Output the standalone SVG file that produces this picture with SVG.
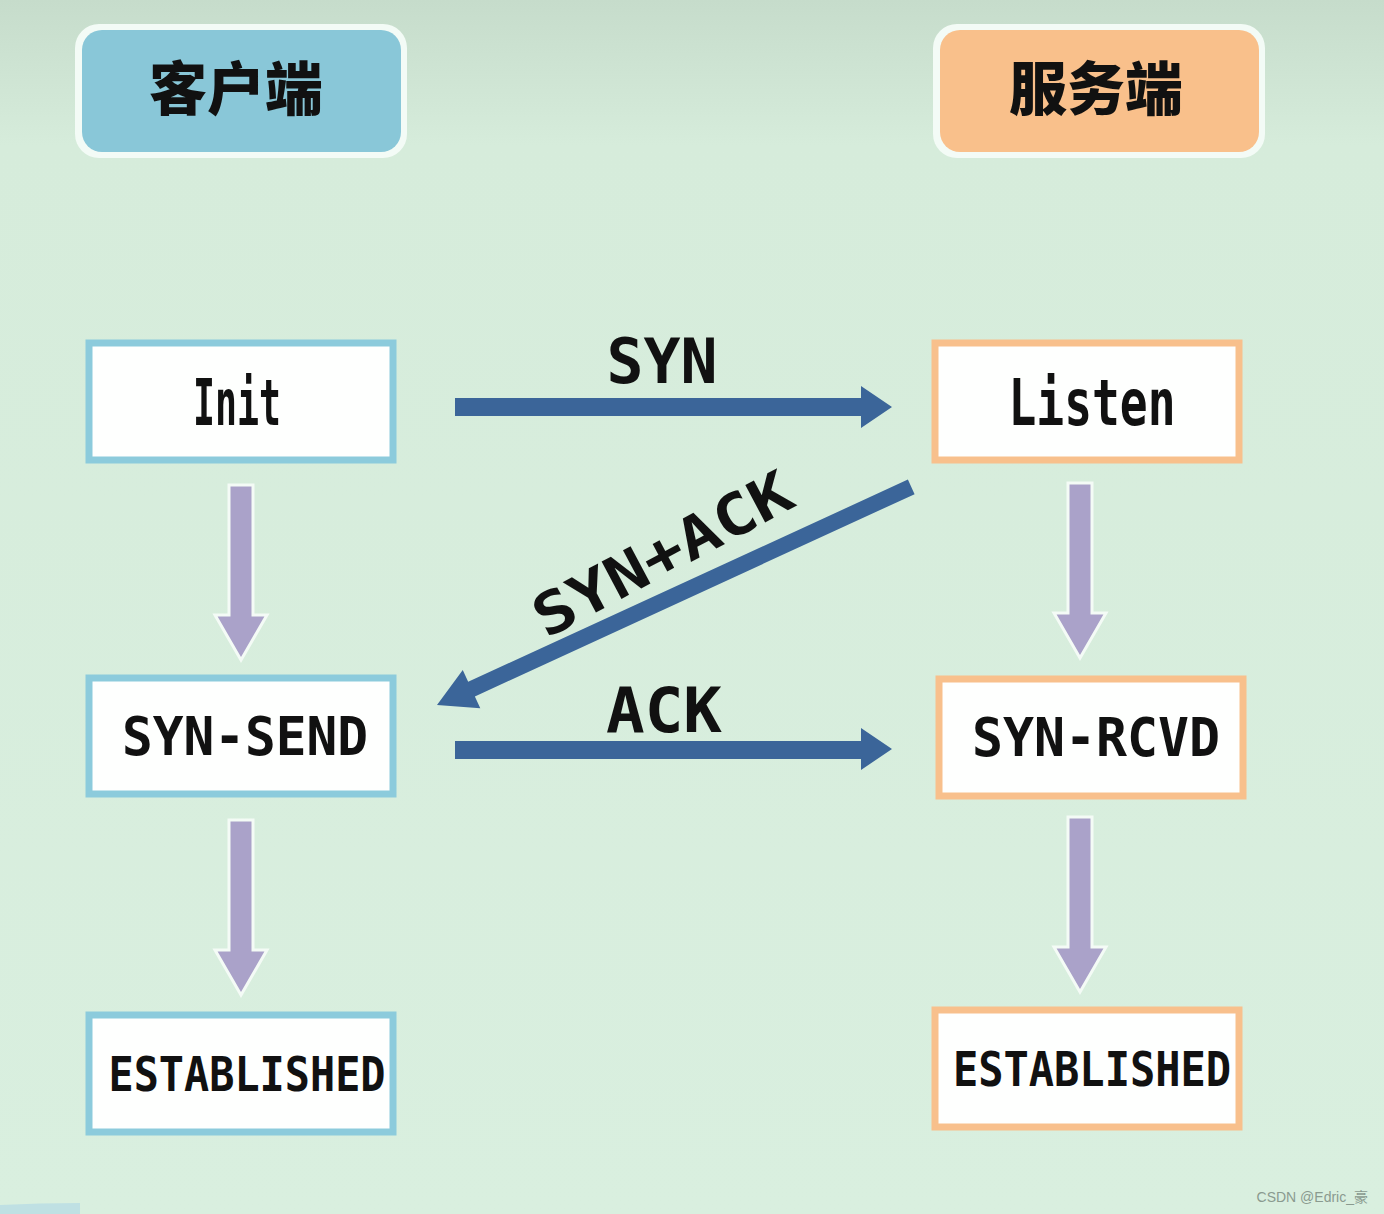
<svg xmlns="http://www.w3.org/2000/svg" width="1384" height="1214" viewBox="0 0 1384 1214">
<defs>
<linearGradient id="bg" x1="0" y1="0" x2="0" y2="1">
<stop offset="0" stop-color="#c6dccb"/>
<stop offset="0.12" stop-color="#d6ecdb"/>
<stop offset="1" stop-color="#d9efdf"/>
</linearGradient>
<style>
.lbl{font-family:"DejaVu Sans Mono","Liberation Mono",monospace;font-weight:bold;fill:#111;}
.hdr{font-family:"Noto Sans CJK SC","Noto Sans",sans-serif;font-weight:900;fill:#111;font-size:58px;}
.cbox{fill:#fefffe;stroke:#8ccbdc;stroke-width:7;}
.sbox{fill:#fefffe;stroke:#f8c08c;stroke-width:7;}
.down{fill:#aaa2c9;stroke:#f4fbf6;stroke-width:3;stroke-linejoin:miter;}
.msg{fill:#3b6599;}
.wm{font-family:"Liberation Sans","Noto Sans CJK SC",sans-serif;font-size:14px;fill:#8a9a8f;}
</style>
</defs>
<rect width="1384" height="1214" fill="url(#bg)"/>
<path d="M0 1214 L0 1205 Q40 1203 80 1203 L80 1214 Z" fill="#bfe0e3"/>

<g id="hdr-client">
<rect x="75" y="24" width="332" height="134" rx="24" fill="#f3fbf6"/>
<rect x="82" y="30" width="319" height="122" rx="20" fill="#89c7d8"/>
<text class="hdr" x="236" y="85" text-anchor="middle" dominant-baseline="central">客户端</text>
</g>
<g id="hdr-server">
<rect x="933" y="24" width="332" height="134" rx="24" fill="#f3fbf6"/>
<rect x="940" y="30" width="319" height="122" rx="20" fill="#f9c08b"/>
<text class="hdr" x="1096" y="85" text-anchor="middle" dominant-baseline="central">服务端</text>
</g>

<g id="n-init"><rect class="cbox" x="89" y="343" width="304" height="117"/>
<text class="lbl" x="237" y="425" text-anchor="middle" font-size="64" textLength="88" lengthAdjust="spacingAndGlyphs">Init</text></g>
<g id="n-listen"><rect class="sbox" x="935" y="343" width="304" height="117"/>
<text class="lbl" x="1092" y="425" text-anchor="middle" font-size="64" textLength="167" lengthAdjust="spacingAndGlyphs">Listen</text></g>
<g id="n-synsend"><rect class="cbox" x="89" y="678" width="304" height="116"/>
<text class="lbl" x="245" y="755" text-anchor="middle" font-size="53" textLength="246" lengthAdjust="spacingAndGlyphs">SYN-SEND</text></g>
<g id="n-synrcvd"><rect class="sbox" x="939" y="679" width="304" height="117"/>
<text class="lbl" x="1096" y="756" text-anchor="middle" font-size="53" textLength="248" lengthAdjust="spacingAndGlyphs">SYN-RCVD</text></g>
<g id="n-est-c"><rect class="cbox" x="89" y="1015" width="304" height="117"/>
<text class="lbl" x="247" y="1091" text-anchor="middle" font-size="48" textLength="277" lengthAdjust="spacingAndGlyphs">ESTABLISHED</text></g>
<g id="n-est-s"><rect class="sbox" x="935" y="1010" width="304" height="117"/>
<text class="lbl" x="1092" y="1086" text-anchor="middle" font-size="48" textLength="278" lengthAdjust="spacingAndGlyphs">ESTABLISHED</text></g>

<g id="connectors">
<path class="down" d="M229 485 H253 V615 H267 L241 660 L215 615 H229 Z"/>
<path class="down" d="M229 820 H253 V950 H267 L241 995 L215 950 H229 Z"/>
<path class="down" d="M1068 483 H1092 V613 H1106 L1080 658 L1054 613 H1068 Z"/>
<path class="down" d="M1068 817 H1092 V947 H1106 L1080 992 L1054 947 H1068 Z"/>
<path class="msg" d="M455 398 H861 V386 L892 407 L861 428 V416 H455 Z"/>
<path class="msg" d="M455 741 H861 V728 L892 749 L861 770 V759 H455 Z"/>
<path class="msg" d="M0 -8 H484 V-21 L522 0 L484 21 V8 H0 Z" transform="translate(437 705) rotate(-24.7) translate(522 0) rotate(180)"/>
<text class="lbl" x="662" y="383" text-anchor="middle" font-size="63" textLength="111" lengthAdjust="spacingAndGlyphs">SYN</text>
<text class="lbl" x="664" y="732" text-anchor="middle" font-size="63" textLength="116" lengthAdjust="spacingAndGlyphs">ACK</text>
<text class="lbl" x="0" y="0" text-anchor="middle" font-size="58" textLength="285" lengthAdjust="spacingAndGlyphs" transform="translate(672 572) rotate(-28)">SYN+ACK</text>
</g>

<text class="wm" x="1368" y="1202" text-anchor="end">CSDN @Edric_豪</text>
</svg>
